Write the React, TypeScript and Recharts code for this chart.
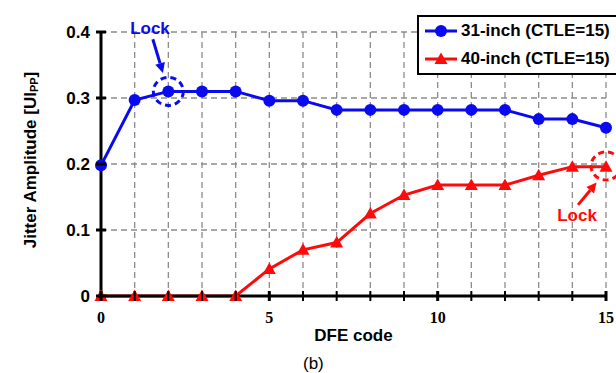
import React from 'react';
import { ComposedChart, Line, XAxis, YAxis, CartesianGrid, ReferenceDot, ReferenceLine, Label } from 'recharts';

const dfeCodes = [0, 1, 2, 3, 4, 5, 6, 7, 8, 9, 10, 11, 12, 13, 14, 15];
const inch31 = [0.198, 0.297, 0.31, 0.31, 0.31, 0.296, 0.296, 0.282, 0.282, 0.282, 0.282, 0.282, 0.282, 0.268, 0.268, 0.255];
const inch40 = [0, 0, 0, 0, 0, 0.041, 0.07, 0.081, 0.125, 0.153, 0.168, 0.168, 0.168, 0.183, 0.196, 0.196];
const xTicks = dfeCodes;
const xLabeled = [0, 5, 10, 15];
const yTicks = [0, 0.1, 0.2, 0.3, 0.4];
const seriesNames = ['31-inch (CTLE=15)', '40-inch (CTLE=15)'];
const lockLabel = 'Lock';

const BLUE = '#0a0aee';
const RED = '#ff0a0a';
const SANS = 'Liberation Sans, Arial, sans-serif';
const SERIF = 'Liberation Serif, Times New Roman, serif';

const data = dfeCodes.map((c, i) => ({ code: c, a: inch31[i], b: inch40[i] }));

const XTick = (props: any) => {
  const { x, y, payload } = props;
  const major = xLabeled.includes(payload.value);
  return (
    <g>
      <line x1={x} x2={x} y1={y - 5} y2={y + 5} stroke="#000" strokeWidth={major ? 3 : 2} />
      {major && (
        <text x={x} y={y + 27} textAnchor="middle" fontFamily={SERIF} fontWeight="bold" fontSize={16} fill="#000">
          {payload.value}
        </text>
      )}
    </g>
  );
};

const YTick = (props: any) => {
  const { x, y, payload } = props;
  return (
    <g>
      <line x1={x - 5} x2={x + 5} y1={y} y2={y} stroke="#000" strokeWidth={3} />
      <text x={x - 11} y={y + 6} textAnchor="end" fontFamily={SANS} fontWeight="bold" fontSize={17} fill="#000">
        {payload.value === 0 ? '0' : payload.value.toFixed(1)}
      </text>
    </g>
  );
};

const Triangle = (props: any) => {
  const { cx, cy } = props;
  if (cx == null || cy == null) return null;
  return <polygon points={`${cx},${cy - 6.5} ${cx - 6.5},${cy + 5} ${cx + 6.5},${cy + 5}`} fill={RED} />;
};

const Circle = (props: any) => {
  const { cx, cy } = props;
  if (cx == null || cy == null) return null;
  return <circle cx={cx} cy={cy} r={6} fill={BLUE} />;
};

const ellipseShape = (color: string) => (props: any) => (
  <ellipse cx={props.cx} cy={props.cy} rx={15} ry={14} fill="none" stroke={color} strokeWidth={3} strokeDasharray="6 4" />
);

const textShape = (color: string) => (props: any) => (
  <text x={props.cx} y={props.cy + 6} textAnchor="middle" fontFamily={SANS} fontWeight="bold" fontSize={17} fill={color}>
    {lockLabel}
  </text>
);

const arrowShape = (color: string) => (props: any) => {
  const { x1, y1, x2, y2 } = props;
  if ([x1, y1, x2, y2].some((v) => v == null || isNaN(v))) return null;
  const dx = x2 - x1;
  const dy = y2 - y1;
  const len = Math.sqrt(dx * dx + dy * dy);
  const ux = dx / len;
  const uy = dy / len;
  const hl = 10;
  const hw = 5;
  const bx = x2 - ux * hl;
  const by = y2 - uy * hl;
  return (
    <g>
      <line x1={x1} y1={y1} x2={bx} y2={by} stroke={color} strokeWidth={3} />
      <polygon
        points={`${x2},${y2} ${bx - uy * hw},${by + ux * hw} ${bx + uy * hw},${by - ux * hw}`}
        fill={color}
      />
    </g>
  );
};

const YLabel = (props: any) => {
  const cx = 30;
  const cy = 160;
  return (
    <text
      x={cx}
      y={cy}
      transform={`rotate(-90 ${cx} ${cy})`}
      textAnchor="middle"
      dominantBaseline="central"
      fontFamily={SANS}
      fontWeight="bold"
      fontSize={17}
      fill="#000"
    >
      Jitter Amplitude [UI
      <tspan fontSize={11} dy={4}>PP</tspan>
      <tspan dy={-4}>]</tspan>
    </text>
  );
};

const LegendItem = ({ color, label, tri }: { color: string; label: string; tri: boolean }) => (
  <div style={{ display: 'flex', alignItems: 'center', height: 28 }}>
    <svg width={36} height={20} style={{ marginRight: 2 }}>
      <line x1={2} x2={34} y1={10} y2={10} stroke={color} strokeWidth={3} />
      {tri ? (
        <polygon points="18,3.5 11.5,15 24.5,15" fill={color} />
      ) : (
        <circle cx={18} cy={10} r={6} fill={color} />
      )}
    </svg>
    <span style={{ fontFamily: SANS, fontWeight: 'bold', fontSize: 17, color: '#000', whiteSpace: 'nowrap' }}>{label}</span>
  </div>
);

export default function App() {
  return (
    <div style={{ position: 'absolute', left: 0, top: 0, width: 616, height: 373, background: '#fff' }}>
      <ComposedChart width={616} height={373} data={data} margin={{ top: 32, right: 10, bottom: 32, left: 41 }}>
        <CartesianGrid stroke="#8c8c8c" strokeWidth={1.3} strokeDasharray="6 4" />
        <XAxis
          dataKey="code"
          type="number"
          domain={[0, 15]}
          ticks={xTicks}
          interval={0}
          height={45}
          tickSize={0}
          tickMargin={0}
          tickLine={false}
          axisLine={{ stroke: '#000', strokeWidth: 3 }}
          tick={<XTick />}
        >
          <Label value="DFE code" position="insideBottom" offset={0} fontFamily={SANS} fontWeight="bold" fontSize={17} fill="#000" />
        </XAxis>
        <YAxis
          type="number"
          domain={[0, 0.4]}
          ticks={yTicks}
          interval={0}
          width={60}
          tickSize={0}
          tickMargin={0}
          tickLine={false}
          axisLine={{ stroke: '#000', strokeWidth: 3 }}
          tick={<YTick />}
        >
          <Label content={<YLabel />} />
        </YAxis>
        <Line
          dataKey="a"
          name={seriesNames[0]}
          stroke={BLUE}
          strokeWidth={3}
          dot={<Circle />}
          activeDot={false}
          isAnimationActive={false}
        />
        <Line
          dataKey="b"
          name={seriesNames[1]}
          stroke={RED}
          strokeWidth={3}
          dot={<Triangle />}
          activeDot={false}
          isAnimationActive={false}
        />
        <ReferenceDot x={2} y={0.31} ifOverflow="visible" shape={ellipseShape(BLUE)} />
        <ReferenceDot x={1.455} y={0.406} ifOverflow="visible" shape={textShape(BLUE)} />
        <ReferenceLine
          segment={[{ x: 1.54, y: 0.389 }, { x: 1.84, y: 0.338 }]}
          ifOverflow="visible"
          shape={arrowShape(BLUE)}
        />
        <ReferenceDot x={15} y={0.197} ifOverflow="visible" shape={ellipseShape(RED)} />
        <ReferenceDot x={14.14} y={0.123} ifOverflow="visible" shape={textShape(RED)} />
        <ReferenceLine
          segment={[{ x: 14.17, y: 0.138 }, { x: 14.72, y: 0.172 }]}
          ifOverflow="visible"
          shape={arrowShape(RED)}
        />
      </ComposedChart>
      <div
        style={{
          position: 'absolute',
          left: 417,
          top: 15,
          width: 196,
          height: 56,
          border: '2px solid #000',
          background: '#fff',
          boxSizing: 'content-box',
          display: 'flex',
          flexDirection: 'column',
          justifyContent: 'center',
          paddingLeft: 4,
        }}
      >
        <LegendItem color={BLUE} label={seriesNames[0]} tri={false} />
        <LegendItem color={RED} label={seriesNames[1]} tri={true} />
      </div>
      <div
        style={{
          position: 'absolute',
          left: 303,
          top: 354,
          fontFamily: SANS,
          fontSize: 17,
          color: '#000',
          lineHeight: '20px',
        }}
      >
        (b)
      </div>
    </div>
  );
}
